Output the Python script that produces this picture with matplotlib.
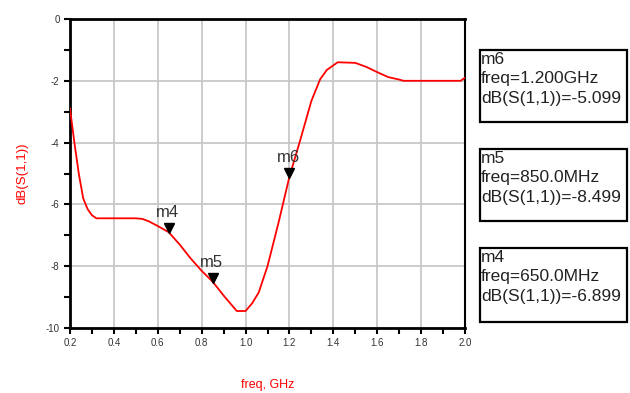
import numpy as np
import matplotlib.pyplot as plt
from matplotlib.ticker import MultipleLocator
from matplotlib.patches import Rectangle

# S11 trace (freq in GHz, dB)
freq = [0.20, 0.22, 0.24, 0.26, 0.28, 0.30, 0.32, 0.40, 0.50, 0.53, 0.56,
        0.60, 0.65, 0.70, 0.75, 0.80, 0.85, 0.90, 0.96, 1.00, 1.03, 1.06,
        1.10, 1.15, 1.20, 1.25, 1.30, 1.34, 1.37, 1.40, 1.42, 1.50, 1.55,
        1.60, 1.65, 1.70, 1.72, 1.80, 1.90, 1.98, 2.00]
s11_db = [-2.9, -4.0, -5.0, -5.8, -6.15, -6.35, -6.45, -6.45, -6.45, -6.47,
          -6.55, -6.7, -6.9, -7.3, -7.75, -8.15, -8.5, -8.95, -9.45, -9.45,
          -9.2, -8.85, -8.0, -6.6, -5.1, -3.9, -2.65, -1.95, -1.65, -1.5,
          -1.4, -1.42, -1.55, -1.72, -1.88, -1.96, -2.0, -2.0, -2.0, -2.0, -1.9]

# markers
mk_names = ["m4", "m5", "m6"]
mk_freq = [0.65, 0.85, 1.20]
mk_db = [-6.899, -8.499, -5.099]
mk_freq_txt = ["650.0MHz", "850.0MHz", "1.200GHz"]

x_ticks = [0.2, 0.4, 0.6, 0.8, 1.0, 1.2, 1.4, 1.6, 1.8, 2.0]
y_ticks = [0, -2, -4, -6, -8, -10]

font = ["Liberation Sans Narrow", "Liberation Sans", "DejaVu Sans"]
plt.rcParams["font.family"] = font

fig = plt.figure(figsize=(6.3, 3.93), dpi=100)
ax = fig.add_axes([70 / 630, 1 - 328 / 393, 395 / 630, 309 / 393])

ax.plot(freq, s11_db, color="red", lw=1.3, zorder=3)

# marker triangles + labels
for name, f, v in zip(mk_names, mk_freq, mk_db):
    ax.plot(f, v + 0.12, marker="v", color="black", ms=7, zorder=4)
    ax.annotate(name, (f, v + 0.12), xytext=(-1, 6), textcoords="offset points",
                fontsize=12, color="#333333", ha="center", va="bottom", zorder=5)

ax.set_xlim(0.2, 2.0)
ax.set_ylim(-10, 0)
ax.set_xticks(x_ticks)
ax.set_yticks(y_ticks)
ax.set_xticklabels([f"{t:.1f}" for t in x_ticks])
ax.set_yticklabels([str(t) for t in y_ticks])
ax.xaxis.set_minor_locator(MultipleLocator(0.1))
ax.yaxis.set_minor_locator(MultipleLocator(1))
ax.tick_params(which="both", direction="out", length=4, width=1.5,
               labelsize=7, colors="black", labelcolor="#333333")
ax.grid(True, which="major", color="#c8c8c8", lw=1.3, zorder=0)
ax.set_axisbelow(True)

for side in ["left", "bottom", "top"]:
    ax.spines[side].set_linewidth(2.0)
ax.spines["right"].set_linewidth(1.5)

ax.set_xlabel("freq, GHz", color="red", fontsize=9, labelpad=22)
ax.set_ylabel("dB(S(1,1))", color="red", fontsize=9.5, labelpad=12)

# marker readout boxes on the right
box_tops = [50, 149, 248]
box_h = [72, 72, 74]
for i, top in enumerate(box_tops):
    j = 2 - i
    fig.patches.append(Rectangle((480 / 630, 1 - (top + box_h[i]) / 393),
                                 147 / 630, box_h[i] / 393, transform=fig.transFigure,
                                 fc="white", ec="black", lw=1.6))
    txt = f"{mk_names[j]}\nfreq={mk_freq_txt[j]}\ndB(S(1,1))={mk_db[j]:.3f}"
    fig.text(481 / 630, 1 - (top + 2) / 393, txt, fontsize=12.5, va="top",
             ha="left", linespacing=1.36, color="#222222")

fig.savefig("out.png", dpi=100)
